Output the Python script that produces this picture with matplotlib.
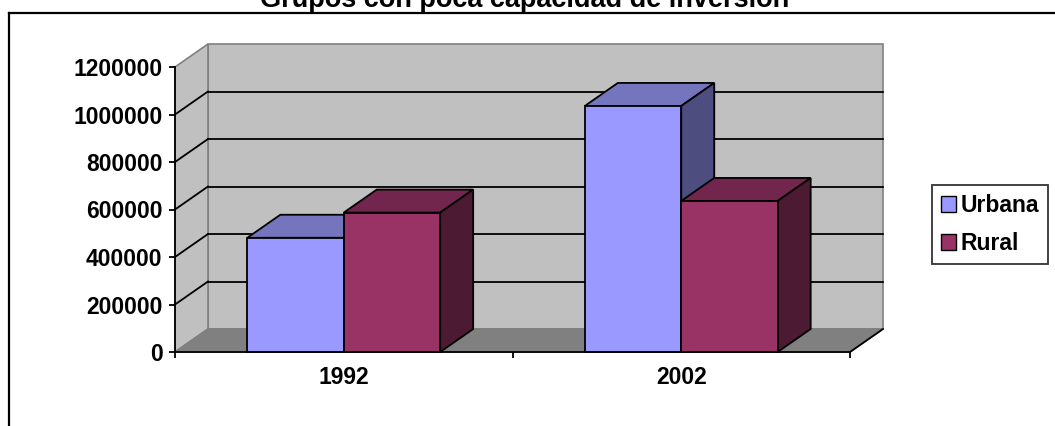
import matplotlib
matplotlib.use("Agg")
import matplotlib.pyplot as plt
from matplotlib.patches import Polygon, Patch
import numpy as np

plt.rcParams['font.family'] = ['Liberation Sans', 'DejaVu Sans']
plt.rcParams['font.weight'] = 'bold'

# ---- data ----
title = "Grupos con poca capacidad de inversión"
categories = ["1992", "2002"]
series_names = ["Urbana", "Rural"]
urbana = [481000, 1036000]
rural = [587000, 636000]
y_ticks = [0, 200000, 400000, 600000, 800000, 1000000, 1200000]

# ---- styles ----
front_colors = ["#9999FF", "#993366"]
top_colors = ["#7575BE", "#73264D"]
side_colors = ["#4D4D80", "#4D1A33"]
WALL = "#C0C0C0"
FLOOR = "#808080"
EDGE_GRAY = "#808080"

W, H = 1055, 426
fig = plt.figure(figsize=(W / 100, H / 100), dpi=100)

# front plane of the 3-D plot box (pixel layout)
ax_l, ax_r, ax_t, ax_b = 175, 850, 67, 352
ax = fig.add_axes([ax_l / W, (H - ax_b) / H, (ax_r - ax_l) / W, (ax_b - ax_t) / H])
ax.set_facecolor("none")
ymax = y_ticks[-1]
ncat = len(categories)
ax.set_xlim(0, ncat)
ax.set_ylim(0, ymax)

# depth vector (pixels -> data units)
depth_px = (33, 23)
DX = depth_px[0] / (ax_r - ax_l) * ncat
DY = depth_px[1] / (ax_b - ax_t) * ymax

def poly(pts, fc, ec, lw, z):
    p = Polygon(pts, closed=True, facecolor=fc, edgecolor=ec, linewidth=lw,
                zorder=z, clip_on=False, joinstyle='miter')
    ax.add_patch(p)

# back wall
poly([(DX, DY), (ncat + DX, DY), (ncat + DX, ymax + DY), (DX, ymax + DY)], WALL, EDGE_GRAY, 1.2, 1)
# side wall
poly([(0, 0), (DX, DY), (DX, ymax + DY), (0, ymax)], WALL, EDGE_GRAY, 1.2, 1)
# floor
poly([(0, 0), (ncat, 0), (ncat + DX, DY), (DX, DY)], FLOOR, EDGE_GRAY, 1.2, 1.5)
ax.plot([ncat, ncat + DX], [0, DY], color="black", lw=1.3, zorder=1.6, clip_on=False)

# gridlines on back wall and side wall
for v in y_ticks[1:-1]:
    ax.plot([DX, ncat + DX], [v + DY, v + DY], color="black", lw=1.3, zorder=2, clip_on=False)
    ax.plot([0, DX], [v, v + DY], color="black", lw=1.3, zorder=2, clip_on=False)

# bars
gap = 1.5
bw = 1.0 / (len(series_names) + gap)
series = [urbana, rural]
z = 3
for ci in range(ncat):
    center = ci + 0.5
    for si, vals in enumerate(series):
        x0 = center - bw * len(series) / 2 + si * bw
        h = vals[ci]
        ax.bar([x0], [h], width=bw, align='edge', color=front_colors[si],
               edgecolor="black", linewidth=1.3, zorder=z + 0.5, clip_on=False)
        poly([(x0, h), (x0 + bw, h), (x0 + bw + DX, h + DY), (x0 + DX, h + DY)],
             top_colors[si], "black", 1.3, z)
        poly([(x0 + bw, 0), (x0 + bw + DX, DY), (x0 + bw + DX, h + DY), (x0 + bw, h)],
             side_colors[si], "black", 1.3, z)
        z += 1

# axes styling
for s in ["top", "right"]:
    ax.spines[s].set_visible(False)
for s in ["left", "bottom"]:
    ax.spines[s].set_color("black")
    ax.spines[s].set_linewidth(1.3)
    ax.spines[s].set_zorder(20)

ax.set_yticks(y_ticks)
ax.set_yticklabels([str(v) for v in y_ticks])
ax.tick_params(axis='y', direction='out', length=4, width=1.3, pad=5,
               labelsize=16.5, colors="black")
ax.set_xticks(np.arange(ncat + 1))
ax.set_xticklabels([])
ax.set_xticks(np.arange(ncat) + 0.5, minor=True)
ax.set_xticklabels(categories, minor=True)
ax.tick_params(axis='x', which='major', direction='out', length=4.5, width=1.3)
ax.tick_params(axis='x', which='minor', length=0, pad=10, labelsize=16.5)
for lab in ax.get_yticklabels() + ax.get_xticklabels(minor=True):
    lab.set_fontweight('bold')

# legend
handles = [Patch(facecolor=front_colors[i], edgecolor="black", linewidth=1.0)
           for i in range(len(series_names))]
leg = fig.legend(handles, series_names, loc='upper left',
                 bbox_to_anchor=(931.7 / W, (H - 185) / H), borderaxespad=0,
                 prop={'weight': 'bold', 'size': 16.5},
                 frameon=True, fancybox=False, shadow=False,
                 handlelength=0.65, handleheight=0.7, handletextpad=0.2,
                 labelspacing=0.65, borderpad=0.4)
leg.get_frame().set_edgecolor("black")
leg.get_frame().set_linewidth(1.3)

# title
fig.text(525 / W, (H - 7) / H, title, ha='center', va='baseline',
         fontsize=19.5, fontweight='bold')

# chart area border (top and left edges)
fig.add_artist(plt.Line2D([8.5 / W, 8.5 / W], [0, (H - 13.3) / H], color="black", lw=1.6,
                          transform=fig.transFigure))
fig.add_artist(plt.Line2D([8.5 / W, 1], [(H - 13.3) / H, (H - 13.3) / H], color="black", lw=1.6,
                          transform=fig.transFigure))

fig.savefig("out.png", dpi=100)
